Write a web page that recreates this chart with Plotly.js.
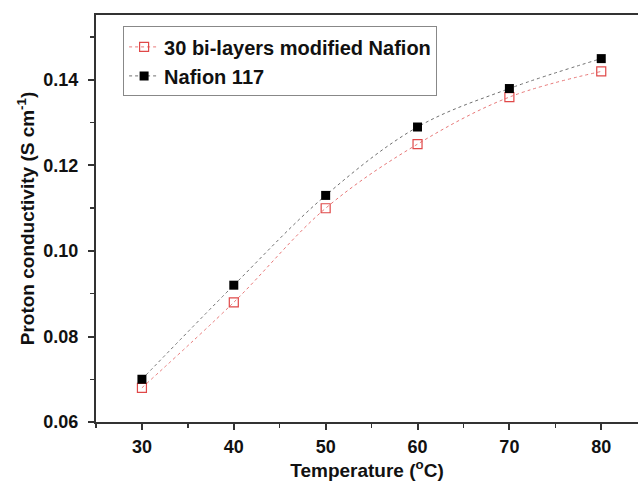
<!DOCTYPE html>
<html><head><meta charset="utf-8">
<script src="https://cdn.plot.ly/plotly-3.0.1.min.js"></script>
<style>html,body{margin:0;padding:0;background:#fff;}#chart{width:638px;height:482px;}</style>
</head><body><div id="chart"></div>
<script>
const temperatures = [30, 40, 50, 60, 70, 80];
const modifiedNafion = [0.068, 0.088, 0.110, 0.125, 0.136, 0.142];
const nafion117 = [0.070, 0.092, 0.113, 0.129, 0.138, 0.145];
const seriesNames = ["30 bi-layers modified Nafion", "Nafion 117"];
const xTicks = [30, 40, 50, 60, 70, 80];
const yTicks = [0.06, 0.08, 0.10, 0.12, 0.14];

const traces = [
  {x: temperatures, y: modifiedNafion, name: seriesNames[0], type: 'scatter', mode: 'lines+markers',
   line: {color: '#e87878', width: 1, dash: 'dot', shape: 'spline'},
   marker: {symbol: 'square-open', size: 9, color: '#e04848', line: {width: 1.2}}},
  {x: temperatures, y: nafion117, name: seriesNames[1], type: 'scatter', mode: 'lines+markers',
   line: {color: '#707070', width: 1, dash: 'dot', shape: 'spline'},
   marker: {symbol: 'square', size: 9, color: '#000000'}}
];

const FAM = 'Arial, Liberation Sans, sans-serif';
const tickFont = {family: FAM, size: 18, color: '#111', weight: 'bold'};
const titleFont = {family: FAM, size: 19, color: '#111', weight: 'bold'};
const layout = {
  width: 638, height: 482,
  margin: {l: 96, r: 0, t: 15, b: 60},
  paper_bgcolor: '#fff', plot_bgcolor: '#fff',
  showlegend: true,
  legend: {x: 0.05, y: 0.972, xanchor: 'left', yanchor: 'top', bordercolor: '#888', borderwidth: 1,
           font: {family: FAM, size: 20, color: '#111', weight: 'bold'},
           tracegroupgap: 0, itemwidth: 30, bgcolor: 'rgba(255,255,255,0)'},
  xaxis: {range: [25, 84], tickvals: xTicks, ticktext: xTicks.map(String), showgrid: false, zeroline: false,
          showline: true, linecolor: '#333', linewidth: 2, mirror: true,
          ticks: 'outside', ticklen: 6, tickwidth: 2, tickcolor: '#333', ticklabelstandoff: 1,
          minor: {dtick: 5, tick0: 25, ticks: 'outside', ticklen: 4, tickwidth: 1.5, tickcolor: '#333'},
          tickfont: tickFont,
          title: {text: 'Temperature (<sup>o</sup>C)', font: titleFont, standoff: 7}},
  yaxis: {range: [0.06, 0.1552], tickvals: yTicks, ticktext: yTicks.map(v => v.toFixed(2)), showgrid: false, zeroline: false,
          showline: true, linecolor: '#333', linewidth: 2,
          ticks: 'outside', ticklen: 6, tickwidth: 2, tickcolor: '#333', ticklabelstandoff: 6,
          minor: {dtick: 0.01, tick0: 0.06, ticks: 'outside', ticklen: 4, tickwidth: 1.5, tickcolor: '#333'},
          tickfont: tickFont,
          title: {text: 'Proton conductivity (S cm<sup>-1</sup>)', font: titleFont, standoff: 4}}
};
Plotly.newPlot('chart', traces, layout, {displayModeBar: false, staticPlot: true});
</script></body></html>
